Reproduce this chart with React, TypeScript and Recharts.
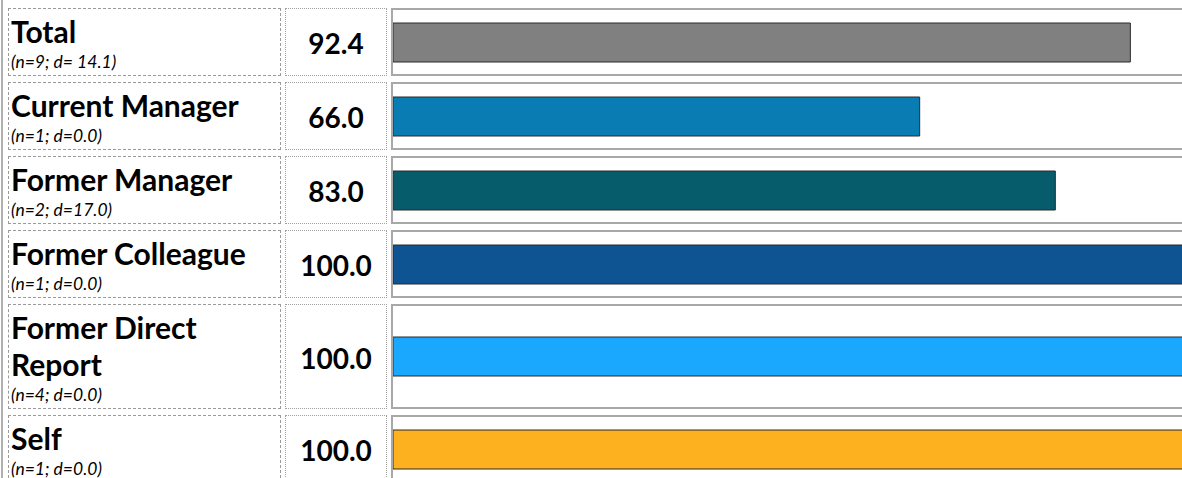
import { BarChart, Bar, XAxis, YAxis } from "recharts";

const categories = [
  "Total",
  "Current Manager",
  "Former Manager",
  "Former Colleague",
  "Former Direct Report",
  "Self",
];
const subtitles = [
  "(n=9; d= 14.1)",
  "(n=1; d=0.0)",
  "(n=2; d=17.0)",
  "(n=1; d=0.0)",
  "(n=4; d=0.0)",
  "(n=1; d=0.0)",
];
const scores = [92.4, 66.0, 83.0, 100.0, 100.0, 100.0];
const colors = ["#808080", "#087CB3", "#065C6B", "#0E5392", "#1AA8FE", "#FEB11F"];
const rowHeights = [68, 68, 68, 68, 105, 68];

const FONT = "Lato, 'Noto Sans', sans-serif";

function ScoreBar({ label, value, color, height }: { label: string; value: number; color: string; height: number }) {
  return (
    <BarChart
      layout="vertical"
      width={798}
      height={height}
      data={[{ name: label, value }]}
      margin={{ top: 0, right: 0, bottom: 0, left: 0 }}
    >
      <XAxis type="number" domain={[0, 100]} hide />
      <YAxis type="category" dataKey="name" hide />
      <Bar
        dataKey="value"
        fill={color}
        stroke="#2b2b2b"
        strokeWidth={1}
        barSize={39}
        isAnimationActive={false}
      />
    </BarChart>
  );
}

export default function App() {
  return (
    <div
      style={{
        position: "fixed",
        left: 0,
        top: 0,
        width: 1182,
        height: 478,
        overflow: "hidden",
        background: "#fff",
        fontFamily: FONT,
        color: "#000",
      }}
    >
      <div style={{ position: "absolute", left: 1, top: 0, width: 2, height: 478, background: "#b0b0b0" }} />
      <div
        style={{
          position: "absolute",
          left: 8,
          top: 8,
          display: "grid",
          gridTemplateColumns: "273px 102px 810px",
          gridTemplateRows: rowHeights.map((h) => h + "px").join(" "),
          columnGap: 4,
          rowGap: 6,
        }}
      >
        {categories.map((cat, i) => [
          <div
            key={cat + "-label"}
            style={{
              boxSizing: "border-box",
              border: "1px dashed #9a9a9a",
              padding: "4px 2px 0 2px",
            }}
          >
            <div style={{ fontWeight: 700, fontSize: 30, lineHeight: "37px" }}>{cat}</div>
            <div style={{ fontStyle: "italic", fontSize: 17.5, lineHeight: "23px" }}>{subtitles[i]}</div>
          </div>,
          <div
            key={cat + "-value"}
            style={{
              boxSizing: "border-box",
              border: "1px dotted #a0a0a0",
              display: "flex",
              alignItems: "center",
              justifyContent: "center",
              fontWeight: 700,
              fontSize: 28,
              paddingTop: 2,
            }}
          >
            {scores[i].toFixed(1)}
          </div>,
          <div
            key={cat + "-bar"}
            style={{
              boxSizing: "border-box",
              border: "2px solid #a8a8a8",
            }}
          >
            <ScoreBar label={cat} value={scores[i]} color={colors[i]} height={rowHeights[i] - 4} />
          </div>,
        ])}
      </div>
    </div>
  );
}
